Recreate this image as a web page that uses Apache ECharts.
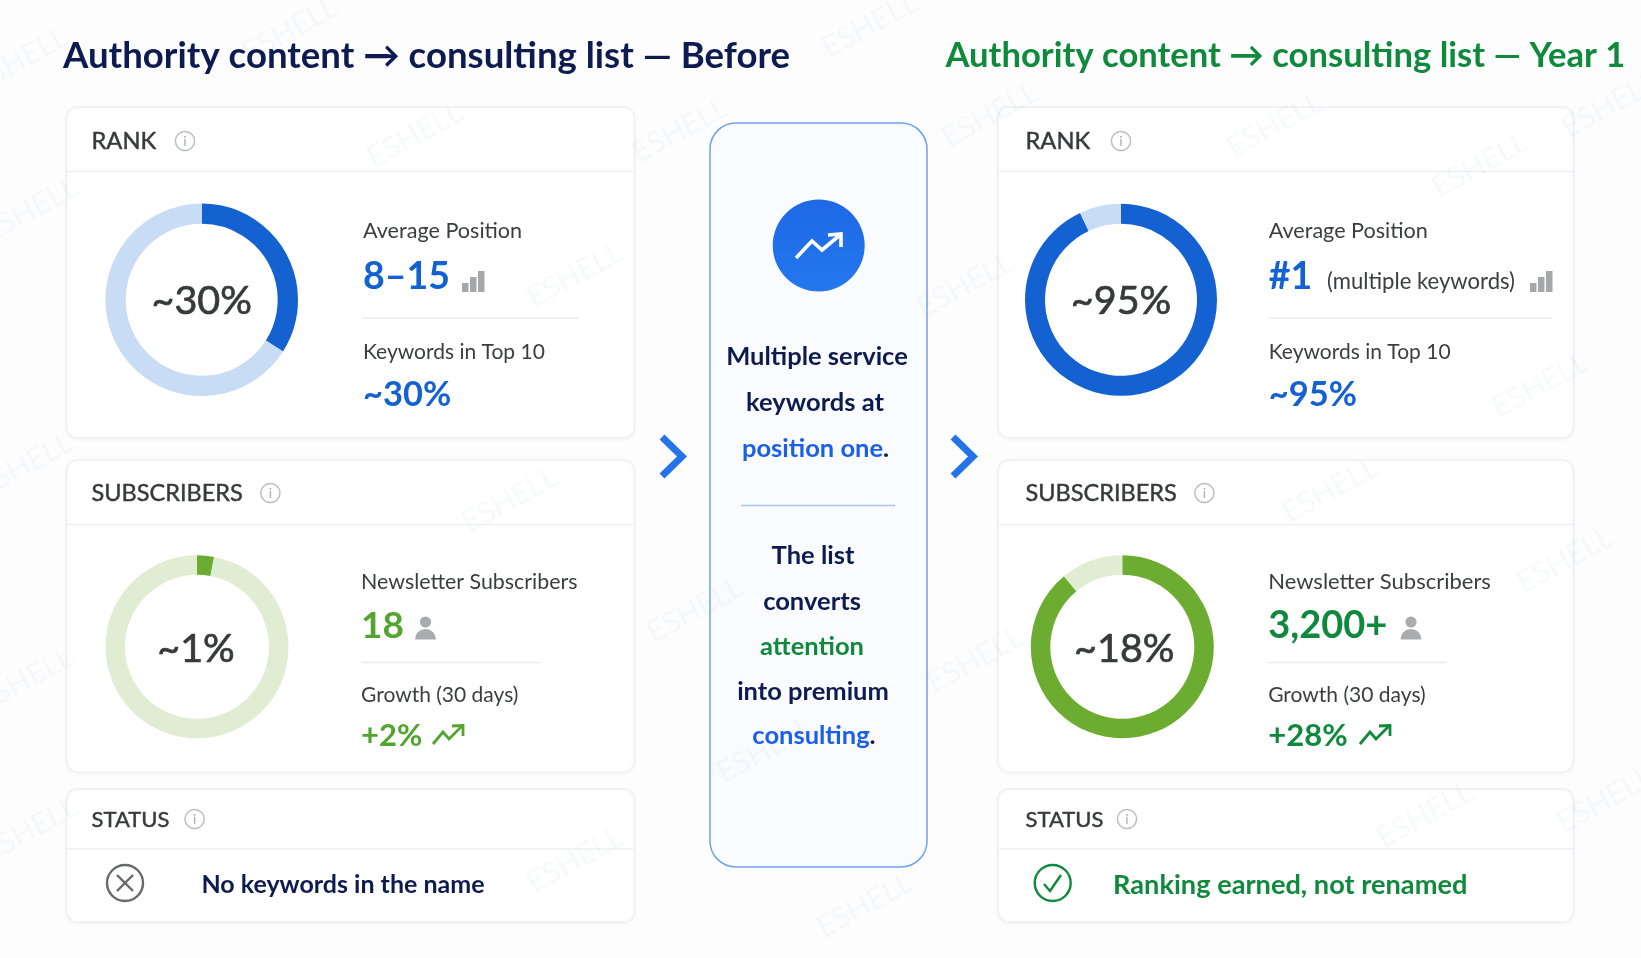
<!DOCTYPE html>
<html>
<head>
<meta charset="utf-8">
<title>Authority content to consulting list</title>
<script src="https://cdn.jsdelivr.net/npm/echarts@6/dist/echarts.min.js"></script>
<style>
  html, body { margin: 0; padding: 0; background: #fdfdfe; }
  #chart { width: 1641px; height: 958px; }
</style>
</head>
<body>
<div id="chart"></div>
<script>
// donuts: rank before, subscribers before, rank year 1, subscribers year 1
var donutNames = ['Rank before', 'Subscribers before', 'Rank year 1', 'Subscribers year 1'];
var donutFilled = [34, 3, 93, 89];
var donutRest = [66, 97, 7, 11];
var donutLabels = ['~30%', '~1%', '~95%', '~18%'];

var titles = ['Authority content \u2192 consulting list \u2014 Before', 'Authority content \u2192 consulting list \u2014 Year 1'];
var cardNames = ['RANK', 'SUBSCRIBERS', 'STATUS'];
var rankLabels = ['Average Position', 'Keywords in Top 10'];
var subLabels = ['Newsletter Subscribers', 'Growth (30 days)'];
var positionValues = ['8\u201315', '#1'];
var topTenValues = ['~30%', '~95%'];
var subscriberValues = ['18', '3,200+'];
var growthValues = ['+2%', '+28%'];
var statusTexts = ['No keywords in the name', 'Ranking earned, not renamed'];

var FONT = 'Lato, "Noto Sans", sans-serif';
var NAVY = '#0e1b50';
var BLUE = '#1461d2';
var BRIGHT = '#1a5fe8';
var DEEP_GREEN = '#0f8a3c';
var LEAF = '#54a52f';
var INK = '#38393c';

var g = [];

function txt(x, y, text, size, color, weight, align, thicken) {
  var style = {
    text: text, fontFamily: FONT, fontSize: size, fontWeight: weight || 400,
    fill: color, textAlign: align || 'left', verticalAlign: 'middle'
  };
  if (thicken) {
    style.stroke = color;
    style.lineWidth = thicken;
  }
  g.push({ type: 'text', x: x, y: y, silent: true, style: style });
}
function line(x1, y1, x2, y2, color, w) {
  g.push({ type: 'line', silent: true, shape: { x1: x1, y1: y1, x2: x2, y2: y2 }, style: { stroke: color, lineWidth: w || 1.5 } });
}
function poly(points, color, w) {
  g.push({ type: 'polyline', silent: true, shape: { points: points }, style: { stroke: color, lineWidth: w, fill: null, lineJoin: 'miter' } });
}
function card(x, y, w, h, dividerY) {
  g.push({
    type: 'rect', silent: true, shape: { x: x, y: y, width: w, height: h, r: 11 },
    style: { fill: '#ffffff', stroke: '#eff0f3', lineWidth: 1.5, shadowBlur: 4, shadowColor: 'rgba(40,50,70,0.04)', shadowOffsetY: 1 }
  });
  line(x, dividerY, x + w, dividerY, '#eeeff2', 1.5);
}
function info(x, y) {
  g.push({ type: 'circle', silent: true, shape: { cx: x, cy: y, r: 9.6 }, style: { fill: 'none', stroke: '#bcbec2', lineWidth: 1.5 } });
  txt(x, y + 0.5, 'i', 14, '#a9abaf', 400, 'center');
}
function bars(x) {
  var heights = [9, 15, 21];
  for (var i = 0; i < heights.length; i++) {
    g.push({ type: 'rect', silent: true, shape: { x: x + i * 8, y: 292 - heights[i], width: 6.5, height: heights[i] }, style: { fill: '#a6a7a9' } });
  }
}
function person(x) {
  g.push({ type: 'circle', silent: true, shape: { cx: x + 10.5, cy: 622, r: 5.6 }, style: { fill: '#a9abae' } });
  g.push({
    type: 'sector', silent: true,
    shape: { cx: x + 10.5, cy: 639.5, r: 10.5, r0: 0, startAngle: Math.PI, endAngle: Math.PI * 2 },
    style: { fill: '#a9abae' }
  });
}
function trend(x, color) {
  poly([[x, 744], [x + 10, 732], [x + 16, 739], [x + 29, 726]], color, 2.8);
  poly([[x + 19, 726], [x + 30, 725.5], [x + 30, 736]], color, 2.8);
}
function chevron(x) {
  poly([[x, 437], [x + 20, 456.5], [x, 476]], '#2473e8', 7);
}

// titles
txt(63, 56, titles[0], 36.6, NAVY, 700);
txt(945.5, 56, titles[1], 34.6, DEEP_GREEN, 700);

// cards, both sides
var cols = [
  { x: 66.5, w: 568, head: 91.5, inf: [185, 270.4, 194.6], label1: 363, label2: 361, ruleEnd: [578, 540], newsSize: 21.4, subSize: 37 },
  { x: 998, w: 575.5, head: 1025.5, inf: [1121, 1204.4, 1127], label1: 1268.7, label2: 1268.2, ruleEnd: [1552, 1447], newsSize: 22, subSize: 38 }
];
cols.forEach(function (c, i) {
  card(c.x, 107, c.w, 331, 171.5);
  card(c.x, 460, c.w, 312, 524.5);
  card(c.x, 789, c.w, 133, 849);
  txt(c.head, 141.5, cardNames[0], 23.7, INK, 400, 'left', 0.45);
  txt(c.head, 493.5, cardNames[1], 23.5, INK, 400, 'left', 0.45);
  txt(c.head, 819.5, cardNames[2], 22, INK, 400, 'left', 0.45);
  info(c.inf[0], 141); info(c.inf[1], 493); info(c.inf[2], 819);

  txt(c.label1, 231, rankLabels[0], 21.6, '#3c3d40');
  txt(c.label1, 277, positionValues[i], 37.5, BLUE, 700);
  line(c.label1, 318, c.ruleEnd[0], 318, '#e9eaec', 1.5);
  txt(c.label1, 352, rankLabels[1], 21, '#3c3d40');
  txt(c.label1, 394.5, topTenValues[i], 34.5, BLUE, 700);

  txt(c.label2, 582, subLabels[0], c.newsSize, '#3c3d40');
  txt(c.label2, 626, subscriberValues[i], c.subSize, i ? DEEP_GREEN : LEAF, 700);
  line(c.label2, 662.5, c.ruleEnd[1], 662.5, '#e9eaec', 1.5);
  txt(c.label2, 695, subLabels[1], 21, '#3c3d40');
  txt(c.label2, 736, growthValues[i], 31, i ? DEEP_GREEN : LEAF, 700);
});

txt(1327, 281.5, '(multiple keywords)', 22.1, '#3c3d40');
bars(462); bars(1530);
person(415); person(1400.5);
trend(433, LEAF); trend(1360, DEEP_GREEN);

// status rows
g.push({ type: 'circle', silent: true, shape: { cx: 125, cy: 883, r: 18 }, style: { fill: 'none', stroke: '#68696d', lineWidth: 2.4 } });
line(117, 875, 133, 891, '#68696d', 2.4);
line(133, 875, 117, 891, '#68696d', 2.4);
txt(201.4, 885, statusTexts[0], 25, NAVY, 700);
g.push({ type: 'circle', silent: true, shape: { cx: 1052.7, cy: 883, r: 18 }, style: { fill: 'none', stroke: DEEP_GREEN, lineWidth: 2.4 } });
poly([[1044, 884], [1050, 891], [1061, 875]], DEEP_GREEN, 2.4);
txt(1113, 885, statusTexts[1], 27.2, DEEP_GREEN, 700);

// middle panel
g.push({
  type: 'rect', silent: true, shape: { x: 710, y: 123, width: 217, height: 744, r: 26 },
  style: { fill: '#f9fbff', stroke: '#6fa2e8', lineWidth: 1.5 }
});
g.push({
  type: 'circle', silent: true, shape: { cx: 818.7, cy: 245.5, r: 46 },
  style: { fill: { type: 'linear', x: 0, y: 0, x2: 0, y2: 1, colorStops: [{ offset: 0, color: '#1d68e6' }, { offset: 1, color: '#2478ee' }] } }
});
poly([[796, 258], [812, 241], [822, 250], [840, 235]], '#ffffff', 3.6);
poly([[828, 235], [841, 234], [841, 247]], '#ffffff', 3.6);
line(741, 505.5, 895, 505.5, '#a9c5ee', 1.6);

var midRich = {
  b: { fontFamily: FONT, fontSize: 25.5, fontWeight: 700, fill: BRIGHT, color: BRIGHT },
  g: { fontFamily: FONT, fontSize: 25.5, fontWeight: 700, fill: DEEP_GREEN, color: DEEP_GREEN },
  d: { fontFamily: FONT, fontSize: 25.5, fontWeight: 700, fill: NAVY, color: NAVY }
};
var midLines = [
  [817, 356.5, '{d|Multiple service}'],
  [815, 402.5, '{d|keywords at}'],
  [815.5, 448.5, '{b|position one}{d|.}'],
  [813, 555.5, '{d|The list}'],
  [812, 601.5, '{d|converts}'],
  [812, 646.5, '{g|attention}'],
  [813, 691.5, '{d|into premium}'],
  [814, 735.5, '{b|consulting}{d|.}']
];
midLines.forEach(function (m) {
  g.push({
    type: 'text', x: m[0], y: m[1], silent: true,
    style: { text: m[2], rich: midRich, textAlign: 'center', verticalAlign: 'middle' }
  });
});
chevron(662); chevron(953);

// watermark, very faint, over the cards
var marks = [[20, 60], [870, 25], [415, 135], [680, 130], [990, 115], [1275, 125], [1480, 165], [1610, 105],
  [30, 210], [575, 275], [965, 285], [1540, 385], [25, 465], [510, 500], [1330, 490], [1565, 560],
  [695, 610], [975, 660], [25, 680], [765, 750], [1425, 815], [30, 830], [575, 860], [1605, 800], [865, 905], [290, 30]];
marks.forEach(function (m) {
  g.push({
    type: 'text', x: m[0], y: m[1], rotation: 0.5, silent: true,
    style: { text: 'ESHELL', fontFamily: FONT, fontSize: 30, fill: 'rgba(120,130,150,0.05)', textAlign: 'center', verticalAlign: 'middle' }
  });
});

// ring geometry per donut
var ringGeom = [
  { c: [201.7, 299.8], outer: 96.3, inner: 76, on: BLUE, off: '#c9dcf6', shift: [0, 1] },
  { c: [197, 646.8], outer: 91.5, inner: 72, on: '#6cad31', off: '#e0edd2', shift: [-1, 2] },
  { c: [1121, 299.8], outer: 96, inner: 76, on: BLUE, off: '#c9dcf6', shift: [0, 1] },
  { c: [1122.3, 646.8], outer: 91.5, inner: 72, on: '#6cad31', off: '#e0edd2', shift: [2, 2] }
];

var series = donutNames.map(function (name, i) {
  var r = ringGeom[i];
  return {
    name: name, type: 'pie', silent: true, animation: false,
    center: r.c, radius: [r.inner, r.outer], startAngle: 90, clockwise: true,
    labelLine: { show: false }, avoidLabelOverlap: false,
    emphasis: { disabled: true },
    data: [
      {
        value: donutFilled[i], name: 'filled', itemStyle: { color: r.on },
        label: {
          show: true, position: 'center', formatter: donutLabels[i], offset: r.shift,
          fontFamily: FONT, fontSize: 39.5, fontWeight: 400, color: INK,
          textBorderColor: INK, textBorderWidth: 0.7
        }
      },
      { value: donutRest[i], name: 'rest', itemStyle: { color: r.off }, label: { show: false } }
    ]
  };
});

var chart = echarts.init(document.getElementById('chart'));
chart.setOption({
  animation: false,
  backgroundColor: '#fdfdfe',
  graphic: { elements: g },
  series: series
});
</script>
</body>
</html>
